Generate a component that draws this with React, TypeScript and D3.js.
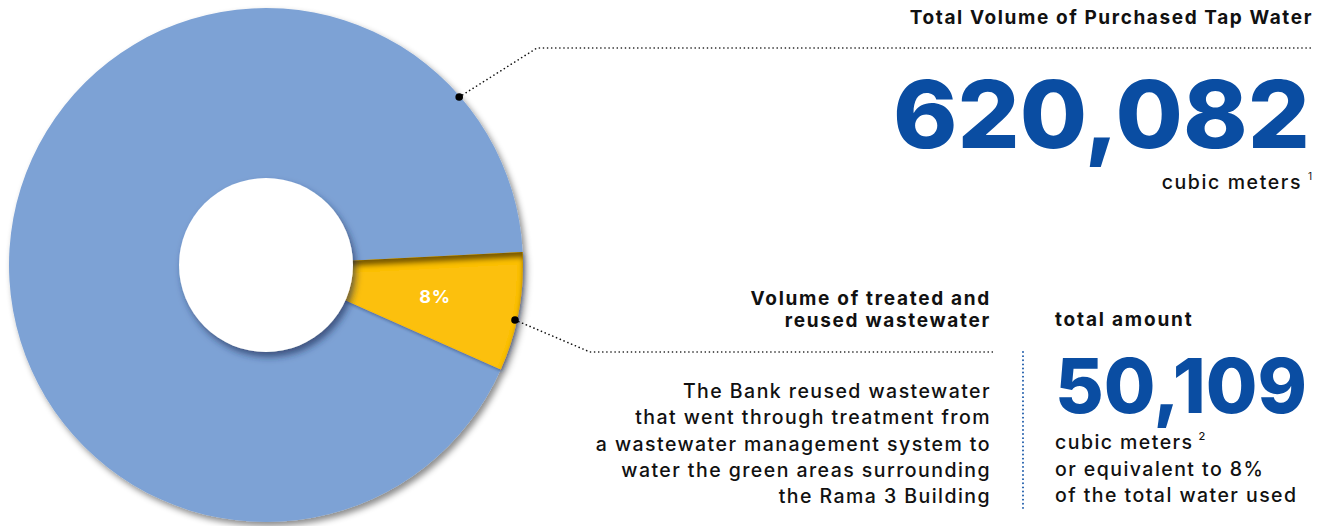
import React from "react";
import * as d3 from "d3";

const categories = ["Reused wastewater", "Purchased tap water"];
const values = [50109, 620082];
const colors = ["#FCC010", "#7DA2D5"];
const pctLabel = "8%";

const topTitle = "Total Volume of Purchased Tap Water";
const topNumber = "620,082";
const topUnit = "cubic meters";
const topSup = "1";

const midTitle = ["Volume of treated and", "reused wastewater"];
const midText = [
  "The Bank reused wastewater",
  "that went through treatment from",
  "a wastewater management system to",
  "water the green areas surrounding",
  "the Rama 3 Building",
];
const rightTitle = "total amount";
const rightNumber = "50,109";
const rightLines = ["cubic meters", "or equivalent to 8%", "of the total water used"];
const rightSup = "2";

const W = 1327;
const H = 526;
const FONT = "Inter, 'Noto Sans', sans-serif";
const BLUE_TEXT = "#0A4DA2";

export default function App() {
  const cx = 266;
  const cy = 265;
  const outerR = 257;
  const innerR = 87;
  const deg = Math.PI / 180;
  const pie = d3
    .pie<number>()
    .sort(null)
    .startAngle(87.1 * deg)
    .endAngle(87.1 * deg + 2 * Math.PI);
  const arcs = pie(values);
  const arc = d3.arc<d3.PieArcDatum<number>>().innerRadius(0).outerRadius(outerR);
  const labelArc = d3.arc<d3.PieArcDatum<number>>().innerRadius(innerR).outerRadius(outerR);

  const pt = (a: number, r: number) => [cx + r * Math.sin(a), cy - r * Math.cos(a)];
  const blueDot = pt(49 * deg, outerR - 1);
  const yMid = (arcs[0].startAngle + arcs[0].endAngle) / 2 + 1.9 * deg;
  const yellowDot = pt(yMid, outerR - 2);

  const line = d3.line();
  const topLeader = line([blueDot as [number, number], [537, 48], [1314, 48]]);
  const midLeader = line([yellowDot as [number, number], [590, 352], [995, 352]]);

  const order = [1, 0];

  return (
    <svg width={W} height={H} style={{ position: "absolute", left: 0, top: 0 }} fontFamily={FONT}>
      <defs>
        <filter id="pieShadow" x="-10%" y="-10%" width="125%" height="125%">
          <feDropShadow dx="3" dy="4" stdDeviation="3" floodColor="#000" floodOpacity="0.45" />
        </filter>
        <filter id="holeShadow" x="-20%" y="-20%" width="150%" height="150%">
          <feDropShadow dx="3" dy="5" stdDeviation="3.5" floodColor="#1b2c55" floodOpacity="0.65" />
        </filter>
        <filter id="sliceShade" x="-10%" y="-10%" width="130%" height="130%">
          <feOffset in="SourceAlpha" dx="0" dy="6" result="off" />
          <feGaussianBlur in="off" stdDeviation="2.5" result="blur" />
          <feComposite in="SourceAlpha" in2="blur" operator="out" result="band" />
          <feFlood floodColor="#4a3300" floodOpacity="0.85" result="fc" />
          <feComposite in="fc" in2="band" operator="in" result="inner" />
          <feOffset in="SourceAlpha" dx="1" dy="2" result="doff" />
          <feGaussianBlur in="doff" stdDeviation="1.5" result="dblur" />
          <feFlood floodColor="#1b2c55" floodOpacity="0.45" result="dc" />
          <feComposite in="dc" in2="dblur" operator="in" result="drop" />
          <feMerge>
            <feMergeNode in="drop" />
            <feMergeNode in="SourceGraphic" />
            <feMergeNode in="inner" />
          </feMerge>
        </filter>
      </defs>

      <g filter="url(#pieShadow)">
        {order.map((i) => (
          <path
            key={categories[i]}
            d={arc(arcs[i]) || ""}
            transform={`translate(${cx},${cy})`}
            fill={colors[i]}
            filter={i === 0 ? "url(#sliceShade)" : undefined}
          />
        ))}
      </g>
      <circle cx={cx} cy={cy} r={innerR} fill="#fff" filter="url(#holeShadow)" />
      <text
        x={cx + labelArc.centroid(arcs[0])[0]}
        y={cy + labelArc.centroid(arcs[0])[1]}
        textAnchor="middle"
        dominantBaseline="central"
        fill="#fff"
        fontWeight={700}
        fontSize={18}
        letterSpacing={0.8}
      >
        {pctLabel}
      </text>

      {/* leaders */}
      <path d={topLeader || ""} fill="none" stroke="#111" strokeWidth={1.6} strokeDasharray="0.1 4" strokeLinecap="round" />
      <path d={midLeader || ""} fill="none" stroke="#111" strokeWidth={1.6} strokeDasharray="0.1 4" strokeLinecap="round" />
      <circle cx={blueDot[0]} cy={blueDot[1]} r={3.8} fill="#000" />
      <circle cx={yellowDot[0]} cy={yellowDot[1]} r={3.8} fill="#000" />
      <line x1={1023} y1={352} x2={1023} y2={509} stroke={BLUE_TEXT} strokeWidth={1.8} strokeDasharray="0.1 4" strokeLinecap="round" />

      {/* top block */}
      <text x={1313} y={24} textAnchor="end" fontWeight={700} fontSize={19} letterSpacing={1.6} fill="#111">
        {topTitle}
      </text>
      <text x={893} y={148} fontWeight={800} fontSize={94} fill={BLUE_TEXT} textLength={417} lengthAdjust="spacingAndGlyphs">
        {topNumber}
      </text>
      <text x={1302} y={189} textAnchor="end" fontWeight={500} fontSize={19.5} letterSpacing={1.6} fill="#111">
        {topUnit}
      </text>
      <text x={1308} y={180} fontSize={10} fill="#111">
        {topSup}
      </text>

      {/* middle block */}
      {midTitle.map((t, i) => (
        <text key={t} x={991} y={305 + i * 21.5} textAnchor="end" fontWeight={700} fontSize={19} letterSpacing={1.7} fill="#111">
          {t}
        </text>
      ))}
      {midText.map((t, i) => (
        <text key={t} x={991} y={398 + i * 26.3} textAnchor="end" fontWeight={500} fontSize={19.5} letterSpacing={1.45} fill="#111">
          {t}
        </text>
      ))}

      {/* right block */}
      <text x={1055} y={326} fontWeight={700} fontSize={19} letterSpacing={1.8} fill="#111">
        {rightTitle}
      </text>
      <text x={1055} y={413} fontWeight={800} fontSize={76} fill={BLUE_TEXT} textLength={252} lengthAdjust="spacingAndGlyphs">
        {rightNumber}
      </text>
      {rightLines.map((t, i) => (
        <text key={t} x={1055} y={449 + i * 26.5} fontWeight={500} fontSize={19.5} letterSpacing={1.45} fill="#111">
          {t}
          {i === 0 ? (
            <tspan dx={5} dy={-9} fontSize={11} letterSpacing={0}>
              {rightSup}
            </tspan>
          ) : null}
        </text>
      ))}
    </svg>
  );
}
